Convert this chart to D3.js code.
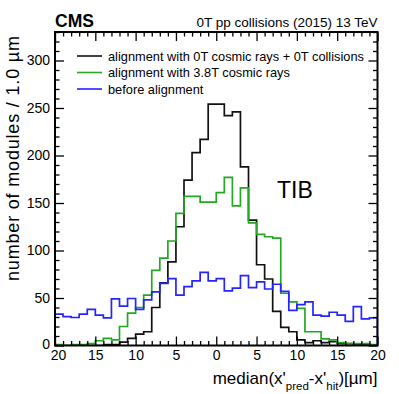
<!DOCTYPE html>
<html>
<head>
<meta charset="utf-8">
<script src="https://cdn.jsdelivr.net/npm/d3@7"></script>
<style>
  html, body { margin: 0; padding: 0; background: #fff; }
  svg { display: block; }
  text { font-family: "Liberation Sans", Arial, Helvetica, sans-serif; fill: #000; }
</style>
</head>
<body>
<svg id="chart" width="399" height="394"></svg>
<script>
// ---- data (bin lower edges from -20 to 19, width 1 µm) ----
const binLowEdges = d3.range(-20, 20, 1);
const seriesNames = [
  "alignment with 0T cosmic rays + 0T collisions",
  "alignment with 3.8T cosmic rays",
  "before alignment"
];
const cosmicsCollisions = [0,0,0,0,0, 0,1,1,3.5,7.5, 12,14.5,40,66,88, 125,174,203,217,254,
                           254,242,246,188,132, 85,70,36,19,14.5, 6,3,5,3,4, 2,2,1,1,0];
const cosmics38T = [1,0,1,1,2, 5,7.5,6,20,34, 40,53,79,92,110, 139,157,157,151,151,
                    161,177,147,166,129, 117,114.5,113,55,46, 39,14.5,14.5,7,6, 3,2,2,2,1];
const beforeAlign = [33,30.5,29.5,33,38, 32,29,49,41.5,49.5, 38,48,56.5,65.5,70.5, 53,62,68,77,68,
                     70.5,57.5,60.5,73.5,61, 67,59.5,64.5,57,37, 43,46,32,31,35, 32,25.5,41,28,29];
const xTickValues = [-20,-15,-10,-5,0,5,10,15,20];
const xTickLabels = ["20","15","10","5","0","5","10","15","20"];
const yTickValues = [0,50,100,150,200,250,300];
const yTickLabels = ["0","50","100","150","200","250","300"];
const seriesColors = ["#111111", "#22a822", "#2424ff"];
const cmsLabel = "CMS";
const headerLabel = "0T pp collisions (2015) 13 TeV";
const regionLabel = "TIB";

// ---- layout ----
const svg = d3.select("#chart");
const L = 55, R = 377.5, T = 32, B = 345.5;
const x = d3.scaleLinear().domain([-20, 20]).range([L, R]);
const y = d3.scaleLinear().domain([0, 330]).range([B, T]);

svg.append("defs").append("clipPath").attr("id", "frameclip")
  .append("rect").attr("x", L).attr("y", T).attr("width", R - L).attr("height", B - T);

// ---- histograms ----
function stepPath(vals) {
  const pts = [[x(binLowEdges[0]), y(0)]];
  vals.forEach((v, i) => {
    pts.push([x(binLowEdges[i]), y(v)]);
    pts.push([x(binLowEdges[i] + 1), y(v)]);
  });
  pts.push([x(binLowEdges[binLowEdges.length - 1] + 1), y(0)]);
  return d3.line()(pts);
}
const histG = svg.append("g").attr("clip-path", "url(#frameclip)");
[cosmicsCollisions, cosmics38T, beforeAlign].forEach((vals, i) => {
  histG.append("path").attr("d", stepPath(vals))
    .attr("fill", "none").attr("stroke", seriesColors[i])
    .attr("stroke-width", 1.7).attr("stroke-linejoin", "miter");
});

// ---- axes ----
const major = 9, minor = 4.5;
const xMinor = d3.range(-20, 21, 1).filter(v => v % 5 !== 0);
const yMinor = d3.range(0, 331, 10).filter(v => v % 50 !== 0);
function styleAxis(g) {
  g.select(".domain").remove();
  g.selectAll("line").attr("stroke", "#000").attr("stroke-width", 1.3);
}
// bottom
svg.append("g").attr("transform", `translate(0,${B})`)
  .call(d3.axisBottom(x).tickValues(xTickValues).tickSize(-major).tickPadding(5)
    .tickFormat((d, i) => xTickLabels[i]))
  .call(styleAxis)
  .call(g => g.selectAll("text").attr("font-size", 14).attr("font-family", "Liberation Sans, Arial, sans-serif")
    .attr("dx", (d, i) => i === 0 ? 3 : 0));
svg.append("g").attr("transform", `translate(0,${B})`)
  .call(d3.axisBottom(x).tickValues(xMinor).tickSize(-minor).tickFormat(""))
  .call(styleAxis);
// top
svg.append("g").attr("transform", `translate(0,${T})`)
  .call(d3.axisTop(x).tickValues(xTickValues).tickSize(-major).tickFormat(""))
  .call(styleAxis);
svg.append("g").attr("transform", `translate(0,${T})`)
  .call(d3.axisTop(x).tickValues(xMinor).tickSize(-minor).tickFormat(""))
  .call(styleAxis);
// left
svg.append("g").attr("transform", `translate(${L},0)`)
  .call(d3.axisLeft(y).tickValues(yTickValues).tickSize(-major).tickPadding(5)
    .tickFormat((d, i) => yTickLabels[i]))
  .call(styleAxis)
  .call(g => g.selectAll("text").attr("font-size", 14).attr("font-family", "Liberation Sans, Arial, sans-serif").attr("x", -5)
    .attr("dy", (d, i) => i === 0 ? "0.2em" : "0.32em"));
svg.append("g").attr("transform", `translate(${L},0)`)
  .call(d3.axisLeft(y).tickValues(yMinor).tickSize(-minor).tickFormat(""))
  .call(styleAxis);
// right
svg.append("g").attr("transform", `translate(${R},0)`)
  .call(d3.axisRight(y).tickValues(yTickValues).tickSize(-major).tickFormat(""))
  .call(styleAxis);
svg.append("g").attr("transform", `translate(${R},0)`)
  .call(d3.axisRight(y).tickValues(yMinor).tickSize(-minor).tickFormat(""))
  .call(styleAxis);

// frame
svg.append("rect").attr("x", L).attr("y", T).attr("width", R - L).attr("height", B - T)
  .attr("fill", "none").attr("stroke", "#000").attr("stroke-width", 2);

// ---- texts ----
svg.append("text").attr("x", L).attr("y", 27).attr("font-size", 17.5).attr("font-weight", "bold").text(cmsLabel);
svg.append("text").attr("x", R).attr("y", 27).attr("text-anchor", "end").attr("font-size", 13.5).text(headerLabel);
svg.append("text").attr("x", 277).attr("y", 197.5).attr("font-size", 23).text(regionLabel);

// x title
const xt = svg.append("text").attr("x", R).attr("y", 384).attr("text-anchor", "end").attr("font-size", 17);
xt.append("tspan").text("median(x'");
xt.append("tspan").attr("font-size", 11.5).attr("dy", 6).text("pred");
xt.append("tspan").attr("dy", -6).text("-x'");
xt.append("tspan").attr("font-size", 11.5).attr("dy", 6).text("hit");
xt.append("tspan").attr("dy", -6).text(")[µm]");

// y title
svg.append("text").attr("transform", "translate(18.5,36) rotate(-90)")
  .attr("text-anchor", "end").attr("font-size", 18)
  .attr("textLength", 245).attr("lengthAdjust", "spacing")
  .text("number of modules / 1.0 µm");

// ---- legend ----
const legY = [56, 72.5, 89];
seriesNames.forEach((name, i) => {
  svg.append("line").attr("x1", 77).attr("x2", 102).attr("y1", legY[i]).attr("y2", legY[i])
    .attr("stroke", seriesColors[i]).attr("stroke-width", 1.6);
  svg.append("text").attr("x", 108).attr("y", legY[i] + 4.7).attr("font-size", 12.8).text(name);
});
</script>
</body>
</html>
